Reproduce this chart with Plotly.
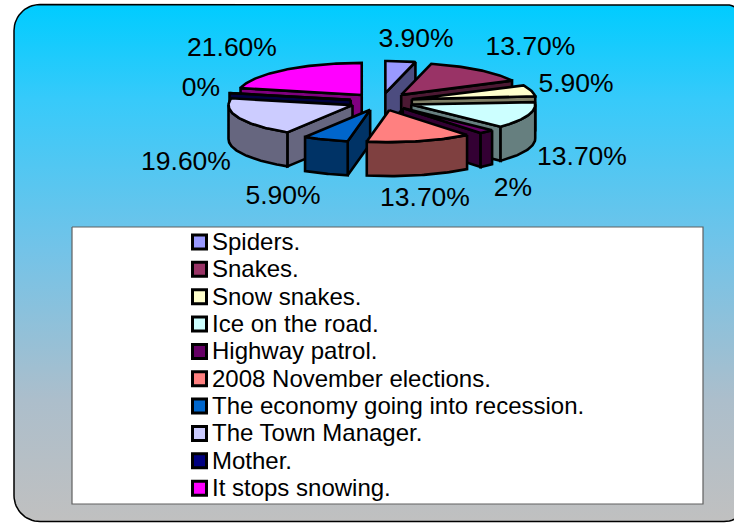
import numpy as np
import plotly.graph_objects as go

categories = ["Spiders.", "Snakes.", "Snow snakes.", "Ice on the road.", "Highway patrol.",
              "2008 November elections.", "The economy going into recession.",
              "The Town Manager.", "Mother.", "It stops snowing."]
percent_values = [3.9, 13.7, 5.9, 13.7, 2.0, 13.7, 5.9, 19.6, 0.0, 21.6]
percent_labels = ["3.90%", "13.70%", "5.90%", "13.70%", "2%", "13.70%", "5.90%", "19.60%", "0%", "21.60%"]
slice_colors = ["#9999FF", "#993366", "#FFFFCC", "#CCFFFF", "#660066",
                "#FF8080", "#0066CC", "#CCCCFF", "#000080", "#FF00FF"]

# pie projection (pixels)
CX, CY, RX, RY, DEPTH, EXPL_X, EXPL_Y = 381.5, 101.7, 124, 32, 34, 31.5, 8.7
# label centres (pixels)
LABEL_X = [416, 530.5, 576, 582, 513, 425, 283, 186, 201, 232]
LABEL_Y = [40, 48, 85, 158, 189, 199, 197, 163, 89, 49]


def shade(hexcol, f=0.5):
    r, g, b = (int(hexcol[i:i + 2], 16) for i in (1, 3, 5))
    return f"rgb({int(r * f)},{int(g * f)},{int(b * f)})"


def rounded_rect(x0, y0, x1, y1, r):
    xs, ys = [], []
    for cx, cy, a0 in [(x0 + r, y0 + r, 180), (x1 - r, y0 + r, 270), (x1 - r, y1 - r, 0), (x0 + r, y1 - r, 90)]:
        t = np.radians(np.linspace(a0, a0 + 90, 16))
        xs += list(cx + r * np.cos(t))
        ys += list(cy + r * np.sin(t))
    return xs + xs[:1], ys + ys[:1]


fig = go.Figure()


def poly(xs, ys, color, lw=2.6, line="#000000"):
    fig.add_trace(go.Scatter(x=list(xs), y=list(ys), mode="lines", fill="toself", fillcolor=color,
                             line=dict(color=line, width=lw), hoverinfo="skip", showlegend=False))


# background
bx, by = rounded_rect(14, 4.5, 750, 521.5, 26)
fig.add_trace(go.Scatter(x=bx, y=by, mode="lines", fill="toself",
                         fillgradient=dict(type="vertical",
                                           colorscale=[[0, "#C0C0C0"], [0.235, "rgb(172,190,203)"],
                                                       [0.525, "rgb(115,195,232)"], [0.815, "rgb(55,202,250)"],
                                                       [1, "#00CCFF"]]),
                         line=dict(color="#000000", width=1.5), hoverinfo="skip", showlegend=False))

# 3D exploded pie
total = sum(percent_values)
edges = np.concatenate([[0], np.cumsum(percent_values)]) / total * 360
slices = []
for i, col in enumerate(slice_colors):
    slices.append((edges[i], edges[i + 1], col))
order = sorted(range(len(slices)), key=lambda i: -np.cos(np.radians((slices[i][0] + slices[i][1]) / 2)))
for i in order:
    a0, a1, col = slices[i]
    mid = np.radians((a0 + a1) / 2)
    tx, ty = CX + EXPL_X * np.sin(mid), CY - EXPL_Y * np.cos(mid)
    n = max(2, int(a1 - a0) + 2)
    t = np.radians(np.linspace(a0, a1, n))
    ax, ay = tx + RX * np.sin(t), ty - RY * np.cos(t)
    side = shade(col)
    # radial faces facing the viewer
    if np.sin(np.radians(a0)) < 0:
        poly([tx, ax[0], ax[0], tx, tx], [ty, ay[0], ay[0] + DEPTH, ty + DEPTH, ty], side)
    if np.sin(np.radians(a1)) > 1e-6:
        poly([tx, ax[-1], ax[-1], tx, tx], [ty, ay[-1], ay[-1] + DEPTH, ty + DEPTH, ty], side)
    # outer wall on the near half
    mask = np.cos(t) < 0.02
    if mask.sum() >= 2:
        wx, wy = ax[mask], ay[mask]
        poly(list(wx) + list(wx[::-1]) + [wx[0]], list(wy) + list(wy[::-1] + DEPTH) + [wy[0]], side)
    # top
    poly([tx] + list(ax) + [tx], [ty] + list(ay) + [ty], col)

# percentage labels
fig.add_trace(go.Scatter(x=LABEL_X, y=LABEL_Y, text=percent_labels, mode="text", textposition="middle center",
                         textfont=dict(family="Liberation Sans", size=26.5, color="#000000"),
                         hoverinfo="skip", showlegend=False))

# legend box
poly([72, 703, 703, 72, 72], [227, 227, 504, 504, 227], "#FFFFFF", lw=1.2, line="#606060")
row_y = [242 + k * 27.35 for k in range(len(categories))]
fig.add_trace(go.Scatter(x=[199.5] * len(categories), y=row_y, mode="markers",
                         marker=dict(symbol="square", size=14, color=slice_colors,
                                     line=dict(color="#000000", width=3)),
                         hoverinfo="skip", showlegend=False))
fig.add_trace(go.Scatter(x=[212] * len(categories), y=[v + 2 for v in row_y], text=categories, mode="text",
                         textposition="middle right",
                         textfont=dict(family="Liberation Sans", size=24, color="#000000"),
                         hoverinfo="skip", showlegend=False))

fig.update_layout(width=734, height=523, margin=dict(l=0, r=0, t=0, b=0),
                  paper_bgcolor="#FFFFFF", plot_bgcolor="#FFFFFF", showlegend=False,
                  xaxis=dict(range=[0, 734], visible=False, fixedrange=True),
                  yaxis=dict(range=[523, 0], visible=False, fixedrange=True))
fig.write_html("out.html", config={"displayModeBar": False}, post_script="document.body.style.margin='0';")
